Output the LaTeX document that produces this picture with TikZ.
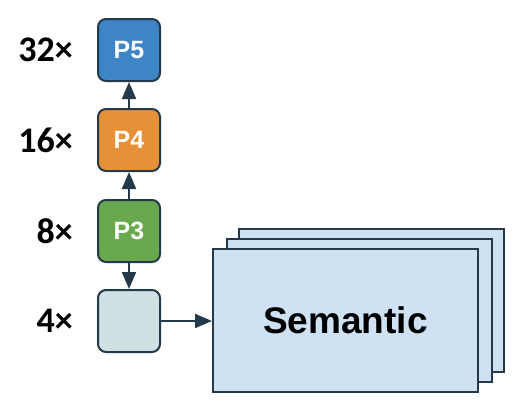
\documentclass[tikz,border=0pt]{standalone}
\usepackage{fontspec}
\setmainfont{Liberation Sans}
\newfontfamily\scalefont{Carlito}
\usetikzlibrary{arrows.meta}
\definecolor{edge}{HTML}{243A4A}
\definecolor{pfive}{HTML}{3D85C6}
\definecolor{pfour}{HTML}{E69138}
\definecolor{pthree}{HTML}{6AA84F}
\definecolor{pgray}{HTML}{D0E0E3}
\definecolor{sem}{HTML}{CFE2F3}
\begin{document}
\begin{tikzpicture}[x=1pt,y=-1pt,
  level/.style={draw=edge,line width=2pt,rounded corners=8pt,minimum width=62pt,minimum height=62pt,inner sep=0pt,text=white,font=\fontsize{25}{25}\selectfont\bfseries},
  scalelbl/.style={anchor=east,inner sep=0pt,font=\scalefont\fontsize{36}{36}\selectfont\bfseries},
  semrect/.style={draw=edge,line width=2pt,fill=sem,minimum width=265pt,minimum height=143pt,inner sep=0pt},
  conn/.style={draw=edge,line width=2pt,-{Triangle[length=17pt,width=14pt]}}]
\useasboundingbox (0,0) rectangle (521,410);
\node[level,fill=pfive] (p5) at (129,50) {P5};
\node[level,fill=pfour] (p4) at (129,140) {P4};
\node[level,fill=pthree] (p3) at (129,231) {P3};
\node[level,fill=pgray] (p2) at (129,321) {};
\node[scalelbl] (l5) at (73,50) {32×};
\node[scalelbl] (l4) at (73,140) {16×};
\node[scalelbl] (l3) at (73,231) {8×};
\node[scalelbl] (l2) at (73,321) {4×};
\node[semrect] (s3) at (371.5,300) {};
\node[semrect] (s2) at (359.5,310) {};
\node[semrect,font=\fontsize{37}{37}\selectfont\bfseries] (s1) at (345.5,320.5) {Semantic};
\draw[conn] (p4) -- (p5);
\draw[conn] (p3) -- (p4);
\draw[conn] (p3) -- (p2);
\draw[conn] (p2) -- (p2 -| s1.west);
\end{tikzpicture}
\end{document}
